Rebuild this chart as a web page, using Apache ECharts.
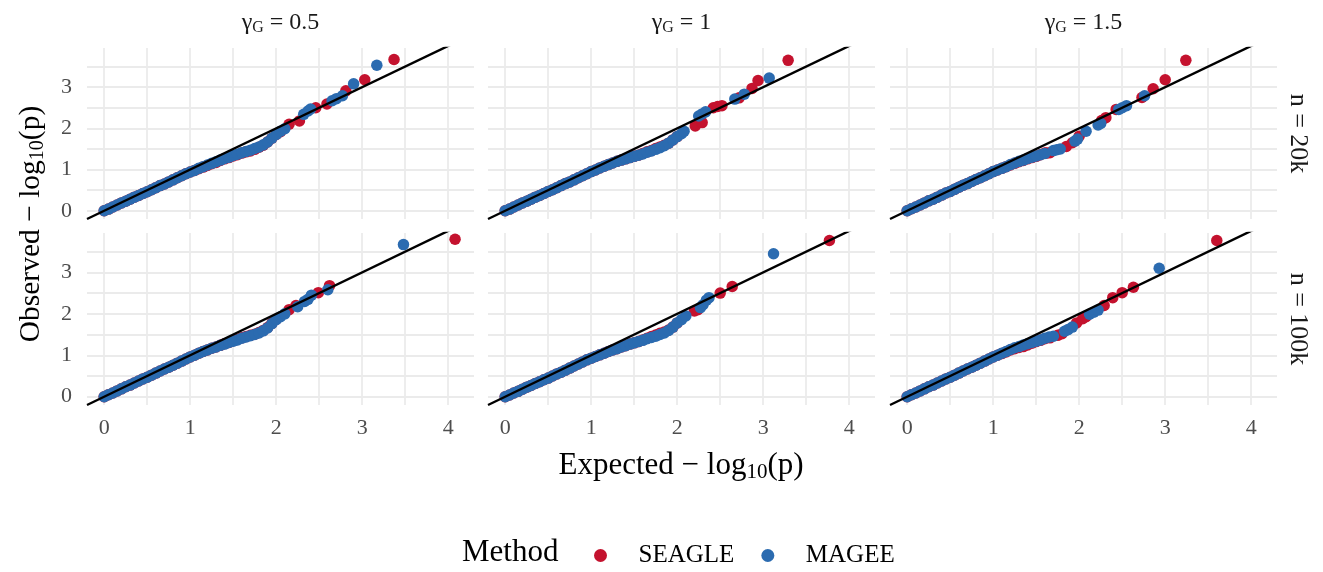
<!DOCTYPE html>
<html>
<head>
<meta charset="utf-8">
<script src="https://cdn.jsdelivr.net/npm/echarts@6/dist/echarts.min.js"></script>
<style>
  html, body { margin: 0; padding: 0; background: #fff; }
  #chart { width: 1323px; height: 572px; }
</style>
</head>
<body>
<div id="chart"></div>
<script>
// expected -log10(p) sampled along the dense part of each curve
let bandX = [0, 0.05, 0.1, 0.15, 0.2, 0.25, 0.3, 0.35, 0.4, 0.45, 0.5, 0.55, 0.6, 0.65, 0.7, 0.75, 0.8, 0.85, 0.9, 0.95,
  1.0, 1.05, 1.1, 1.15, 1.2, 1.25, 1.3, 1.35, 1.4, 1.45, 1.5, 1.55, 1.6, 1.65, 1.7, 1.75, 1.8, 1.85, 1.9, 1.95, 2.0];

let gammaLabels = ['0.5', '1', '1.5'];
let nLabels = ['20k', '100k'];
let xTickLabels = ['0', '1', '2', '3', '4'];
let yTickLabels = ['0', '1', '2', '3'];

// gamma 0.5, n 20k
let mageeBand_05_20k = [0, 0.04, 0.09, 0.14, 0.19, 0.23, 0.28, 0.33, 0.37, 0.42, 0.46, 0.51, 0.56, 0.61, 0.65, 0.7, 0.75, 0.8, 0.85, 0.9, 0.94, 0.98, 1.03, 1.07, 1.11, 1.15, 1.19, 1.23, 1.27, 1.3, 1.34, 1.37, 1.41, 1.44, 1.47, 1.51, 1.55, 1.6, 1.67, 1.76, 1.85];
let seagleBand_05_20k = [0, 0.04, 0.09, 0.14, 0.19, 0.23, 0.28, 0.33, 0.37, 0.42, 0.46, 0.51, 0.56, 0.61, 0.65, 0.7, 0.75, 0.8, 0.85, 0.9, 0.94, 0.98, 1.02, 1.06, 1.1, 1.14, 1.17, 1.22, 1.26, 1.29, 1.33, 1.36, 1.4, 1.43, 1.45, 1.49, 1.54, 1.59, 1.67, 1.76, 1.85];
let mageeTail_05_20k = [[2.05, 1.93], [2.1, 1.99], [2.32, 2.34], [2.37, 2.42], [2.4, 2.47], [2.65, 2.67], [2.7, 2.72], [2.77, 2.79], [2.9, 3.08], [3.17, 3.53]];
let seagleTail_05_20k = [[2.05, 1.92], [2.15, 2.1], [2.27, 2.18], [2.46, 2.5], [2.59, 2.59], [2.81, 2.91], [3.03, 3.18], [3.37, 3.67]];

// gamma 1, n 20k
let mageeBand_1_20k = [0, 0.04, 0.09, 0.14, 0.19, 0.23, 0.28, 0.33, 0.37, 0.42, 0.47, 0.51, 0.56, 0.61, 0.66, 0.7, 0.75, 0.8, 0.85, 0.9, 0.95, 0.99, 1.04, 1.08, 1.12, 1.16, 1.2, 1.23, 1.26, 1.29, 1.32, 1.35, 1.38, 1.42, 1.45, 1.49, 1.53, 1.58, 1.64, 1.72, 1.8];
let seagleBand_1_20k = [0, 0.04, 0.09, 0.14, 0.19, 0.23, 0.28, 0.33, 0.37, 0.42, 0.47, 0.51, 0.56, 0.61, 0.66, 0.7, 0.75, 0.8, 0.85, 0.9, 0.95, 0.99, 1.04, 1.08, 1.12, 1.16, 1.2, 1.23, 1.26, 1.29, 1.32, 1.35, 1.39, 1.43, 1.46, 1.51, 1.55, 1.59, 1.64, 1.72, 1.8];
let mageeTail_1_20k = [[2.05, 1.87], [2.08, 1.93], [2.25, 2.3], [2.29, 2.35], [2.33, 2.4], [2.67, 2.71], [2.78, 2.83], [3.07, 3.22]];
let seagleTail_1_20k = [[2.21, 2.06], [2.29, 2.14], [2.42, 2.5], [2.47, 2.53], [2.52, 2.55], [2.72, 2.74], [2.87, 2.97], [2.94, 3.16], [3.29, 3.65]];

// gamma 1.5, n 20k
let mageeBand_15_20k = [0, 0.05, 0.09, 0.14, 0.19, 0.24, 0.28, 0.33, 0.38, 0.43, 0.47, 0.52, 0.57, 0.62, 0.66, 0.71, 0.76, 0.8, 0.85, 0.9, 0.95, 0.99, 1.03, 1.07, 1.12, 1.16, 1.2, 1.23, 1.27, 1.3, 1.33, 1.36, 1.39];
let seagleBand_15_20k = [0, 0.05, 0.09, 0.14, 0.19, 0.24, 0.28, 0.33, 0.38, 0.43, 0.47, 0.52, 0.57, 0.62, 0.66, 0.71, 0.76, 0.8, 0.85, 0.9, 0.95, 0.99, 1.03, 1.07, 1.11, 1.15, 1.19, 1.22, 1.26, 1.29, 1.32, 1.36, 1.4];
let mageeTail_15_20k = [[1.7, 1.46], [1.74, 1.48], [1.78, 1.5], [1.95, 1.69], [1.98, 1.74], [2.08, 1.93], [2.22, 2.08], [2.25, 2.12], [2.46, 2.46], [2.5, 2.5], [2.55, 2.55], [2.76, 2.79]];
let seagleTail_15_20k = [[1.62, 1.4], [1.66, 1.41], [1.85, 1.56], [1.92, 1.65], [2.0, 1.81], [2.26, 2.19], [2.31, 2.26], [2.43, 2.46], [2.73, 2.75], [2.86, 2.96], [3.0, 3.18], [3.24, 3.65]];

// gamma 0.5, n 100k
let mageeBand_05_100k = [0, 0.05, 0.09, 0.14, 0.19, 0.24, 0.28, 0.33, 0.38, 0.43, 0.47, 0.52, 0.57, 0.62, 0.67, 0.71, 0.76, 0.81, 0.86, 0.91, 0.96, 1.0, 1.05, 1.09, 1.13, 1.17, 1.2, 1.24, 1.27, 1.31, 1.34, 1.37, 1.41, 1.44, 1.47, 1.5, 1.54, 1.59, 1.66, 1.76, 1.86];
let seagleBand_05_100k = [0, 0.05, 0.09, 0.14, 0.19, 0.24, 0.28, 0.33, 0.38, 0.43, 0.47, 0.52, 0.57, 0.62, 0.67, 0.71, 0.76, 0.81, 0.86, 0.91, 0.96, 1.0, 1.05, 1.09, 1.13, 1.17, 1.2, 1.24, 1.28, 1.31, 1.35, 1.38, 1.42, 1.45, 1.48, 1.51, 1.55, 1.6, 1.67, 1.77, 1.87];
let mageeTail_05_100k = [[2.05, 1.93], [2.1, 2.0], [2.25, 2.17], [2.33, 2.3], [2.37, 2.35], [2.41, 2.45], [2.6, 2.58], [3.48, 3.67]];
let seagleTail_05_100k = [[2.15, 2.1], [2.23, 2.2], [2.49, 2.51], [2.62, 2.68], [4.08, 3.8]];

// gamma 1, n 100k
let mageeBand_1_100k = [0, 0.04, 0.09, 0.13, 0.18, 0.23, 0.27, 0.32, 0.36, 0.41, 0.45, 0.5, 0.55, 0.59, 0.64, 0.69, 0.74, 0.79, 0.84, 0.89, 0.93, 0.97, 1.01, 1.05, 1.09, 1.13, 1.16, 1.2, 1.23, 1.27, 1.3, 1.33, 1.36, 1.4, 1.43, 1.46, 1.5, 1.54, 1.6, 1.68, 1.78];
let seagleBand_1_100k = [0, 0.04, 0.09, 0.13, 0.18, 0.23, 0.27, 0.32, 0.36, 0.41, 0.45, 0.5, 0.55, 0.59, 0.64, 0.69, 0.74, 0.79, 0.84, 0.89, 0.93, 0.97, 1.01, 1.05, 1.09, 1.13, 1.16, 1.2, 1.23, 1.27, 1.3, 1.33, 1.37, 1.41, 1.45, 1.49, 1.53, 1.56, 1.61, 1.68, 1.78];
let mageeTail_1_100k = [[2.05, 1.86], [2.1, 1.95], [2.27, 2.15], [2.3, 2.22], [2.34, 2.33], [2.37, 2.39], [3.12, 3.45]];
let seagleTail_1_100k = [[2.2, 2.07], [2.24, 2.1], [2.5, 2.5], [2.64, 2.66], [3.77, 3.77]];

// gamma 1.5, n 100k
let mageeBand_15_100k = [0, 0.05, 0.09, 0.14, 0.19, 0.24, 0.28, 0.33, 0.38, 0.43, 0.47, 0.52, 0.57, 0.62, 0.67, 0.71, 0.76, 0.81, 0.86, 0.91, 0.96, 1.0, 1.05, 1.09, 1.14, 1.18, 1.21, 1.25, 1.28, 1.31, 1.34, 1.37, 1.41];
let seagleBand_15_100k = [0, 0.05, 0.09, 0.14, 0.19, 0.24, 0.28, 0.33, 0.38, 0.43, 0.47, 0.52, 0.57, 0.62, 0.67, 0.71, 0.76, 0.81, 0.86, 0.91, 0.96, 1.0, 1.04, 1.08, 1.13, 1.16, 1.19, 1.21, 1.25, 1.29, 1.33, 1.36, 1.4];
let mageeTail_15_100k = [[1.65, 1.44], [1.7, 1.46], [1.83, 1.58], [1.87, 1.62], [1.92, 1.68], [2.12, 1.99], [2.17, 2.04], [2.22, 2.09], [2.93, 3.1]];
let seagleTail_15_100k = [[1.66, 1.42], [1.75, 1.48], [1.8, 1.52], [1.97, 1.78], [2.04, 1.88], [2.08, 1.93], [2.29, 2.2], [2.39, 2.39], [2.5, 2.51], [2.63, 2.64], [3.6, 3.77]];

// y = x reference line
let refLine = [[-0.2, -0.2], [4.3, 4.3]];

let panels = [
  { row: 0, col: 0, seagle: [seagleBand_05_20k, seagleTail_05_20k], magee: [mageeBand_05_20k, mageeTail_05_20k] },
  { row: 0, col: 1, seagle: [seagleBand_1_20k, seagleTail_1_20k], magee: [mageeBand_1_20k, mageeTail_1_20k] },
  { row: 0, col: 2, seagle: [seagleBand_15_20k, seagleTail_15_20k], magee: [mageeBand_15_20k, mageeTail_15_20k] },
  { row: 1, col: 0, seagle: [seagleBand_05_100k, seagleTail_05_100k], magee: [mageeBand_05_100k, mageeTail_05_100k] },
  { row: 1, col: 1, seagle: [seagleBand_1_100k, seagleTail_1_100k], magee: [mageeBand_1_100k, mageeTail_1_100k] },
  { row: 1, col: 2, seagle: [seagleBand_15_100k, seagleTail_15_100k], magee: [mageeBand_15_100k, mageeTail_15_100k] }
];

let colors = { SEAGLE: '#C4122E', MAGEE: '#2B6BB0' };
let font = '"Liberation Serif", "DejaVu Serif", serif';
let gridGrey = '#EBEBEB';
let colLeft = [87, 488, 890];
let colWidth = 387;
let rowTop = [48, 233];
let rowHeight = [171, 172];

function toPoints(pair) {
  let band = pair[0], tail = pair[1];
  let pts = band.map(function (y, i) { return [bandX[i], y]; });
  return pts.concat(tail);
}

// split lines every 0.05; only multiples of 0.5 are painted
let splitColors = ['transparent', 'transparent', 'transparent', 'transparent', gridGrey,
  'transparent', 'transparent', 'transparent', 'transparent', 'transparent'];

function tickFormatter(labels) {
  return function (v) {
    let r = Math.round(v);
    if (Math.abs(v - r) < 1e-6 && labels.indexOf(String(r)) >= 0) return String(r);
    return '';
  };
}

let grids = [], xAxes = [], yAxes = [], series = [];
panels.forEach(function (p, i) {
  grids.push({ left: colLeft[p.col], top: rowTop[p.row], width: colWidth, height: rowHeight[p.row], outerBoundsMode: 'none', containLabel: false });
  xAxes.push({
    type: 'value', gridIndex: i, min: -0.2, max: 4.3, interval: 0.05,
    axisLine: { show: false }, axisTick: { show: false },
    splitLine: { show: true, lineStyle: { color: splitColors, width: 1.8 } },
    axisLabel: { show: p.row === 1, margin: 12, color: '#4D4D4D', fontSize: 22, fontFamily: font, formatter: tickFormatter(xTickLabels) }
  });
  yAxes.push({
    type: 'value', gridIndex: i, min: -0.2, max: 3.95, interval: 0.05,
    axisLine: { show: false }, axisTick: { show: false },
    splitLine: { show: true, lineStyle: { color: splitColors, width: 1.8 } },
    axisLabel: { show: p.col === 0, margin: 15, color: '#4D4D4D', fontSize: 22, fontFamily: font, formatter: tickFormatter(yTickLabels) }
  });
  series.push({
    name: 'SEAGLE', type: 'scatter', xAxisIndex: i, yAxisIndex: i, symbolSize: 11.5,
    itemStyle: { color: colors.SEAGLE, opacity: 1 }, data: toPoints(p.seagle), z: 2
  });
  series.push({
    name: 'MAGEE', type: 'scatter', xAxisIndex: i, yAxisIndex: i, symbolSize: 11.5,
    itemStyle: { color: colors.MAGEE, opacity: 1 }, data: toPoints(p.magee), z: 3
  });
  series.push({
    name: 'ref', type: 'line', xAxisIndex: i, yAxisIndex: i, data: refLine, showSymbol: false, clip: true,
    lineStyle: { color: '#000', width: 2.4 }, z: 4, silent: true
  });
});

let graphics = [];
gammaLabels.forEach(function (g, c) {
  graphics.push({
    type: 'text', x: colLeft[c] + colWidth / 2, y: 23,
    style: {
      text: '{m|γ}{s|G}{m| = ' + g + '}', align: 'center', verticalAlign: 'middle',
      rich: {
        m: { fontSize: 24, fontFamily: font, fill: '#1A1A1A', lineHeight: 26 },
        s: { fontSize: 16, fontFamily: font, fill: '#1A1A1A', lineHeight: 15, verticalAlign: 'bottom' }
      }
    }
  });
});
nLabels.forEach(function (n, r) {
  graphics.push({
    type: 'text', x: 1298, y: rowTop[r] + rowHeight[r] / 2, rotation: -Math.PI / 2,
    style: { text: 'n = ' + n, align: 'center', verticalAlign: 'middle', fontSize: 26, fontFamily: font, fill: '#1A1A1A' }
  });
});
function titleRich(size) {
  return {
    m: { fontSize: size, fontFamily: font, fill: '#000', lineHeight: size + 3 },
    s: { fontSize: Math.round(size * 0.68), fontFamily: font, fill: '#000', lineHeight: 16, verticalAlign: 'bottom' }
  };
}
graphics.push({
  type: 'text', x: 681, y: 466,
  style: { text: '{m|Expected − log}{s|10}{m|(p)}', align: 'center', verticalAlign: 'middle', rich: titleRich(31) }
});
graphics.push({
  type: 'text', x: 31, y: 224, rotation: Math.PI / 2,
  style: { text: '{m|Observed − log}{s|10}{m|(p)}', align: 'center', verticalAlign: 'middle', rich: titleRich(29.5) }
});
graphics.push({
  type: 'text', x: 462, y: 553,
  style: { text: 'Method', align: 'left', verticalAlign: 'middle', fontSize: 31, fontFamily: font, fill: '#000' }
});

let myChart = echarts.init(document.getElementById('chart'));
myChart.setOption({
  animation: false,
  backgroundColor: '#fff',
  grid: grids,
  xAxis: xAxes,
  yAxis: yAxes,
  legend: {
    data: ['SEAGLE', 'MAGEE'], left: 589, top: 538, orient: 'horizontal',
    icon: 'circle', itemWidth: 66, itemHeight: 13, itemGap: 27,
    textStyle: { fontSize: 25, fontFamily: font, color: '#000' },
    selectedMode: false
  },
  graphic: graphics,
  series: series
});
</script>
</body>
</html>
